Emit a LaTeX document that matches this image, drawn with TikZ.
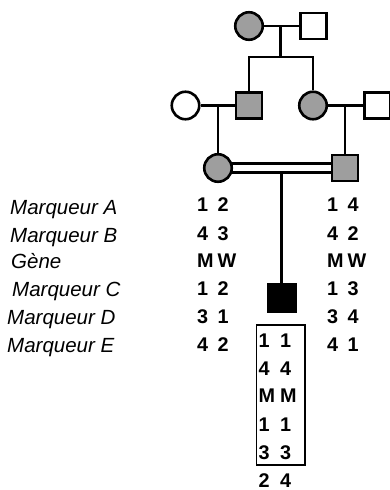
\documentclass[tikz,border=0pt]{standalone}
\usepackage{fontspec}
\setmainfont{Liberation Sans}
\usetikzlibrary{backgrounds}
\definecolor{affgray}{RGB}{158,158,158}
% two alleles of one locus, the first set in a box of fixed width
\newcommand\allelepair[3][20.5pt]{\makebox[#1][l]{#2}#3}
\begin{document}
\begin{tikzpicture}[x=1pt,y=-1pt,
  sym/.style={draw=black, line width=2.6pt, inner sep=0pt},
  female/.style={sym, circle, minimum size=27.5pt},
  male/.style={sym, rectangle, minimum size=26pt},
  aff/.style={fill=affgray},
  unaff/.style={fill=white},
  link/.style={line width=2.6pt},
  lab/.style={anchor=base west, inner sep=0pt,
    font=\fontsize{20.5}{24}\selectfont\itshape},
  allele/.style={anchor=base west, inner sep=0pt,
    font=\fontsize{19.8}{22}\selectfont\bfseries}]
\useasboundingbox (0,0) rectangle (390,490);

% generation I
\node[female, aff]   (gm) at (249,26) {};
\node[male, unaff]   (gf) at (313.5,26) {};
% generation II
\node[female, unaff] (m1) at (185.5,105.5) {};
\node[male, aff]     (f1) at (249,105.5) {};
\node[female, aff]   (m2) at (313,105.5) {};
\node[male, unaff]   (f2) at (377.5,105.5) {};
% generation III
\node[female, aff]   (ca) at (218,168) {};
\node[male, aff]     (cb) at (345,168) {};
% generation IV
\node[male, fill=black, minimum size=27.4pt] (kid) at (281.5,298) {};

% couples and sibships
\draw[link] (gm.east) -- (gf.west);
\coordinate (sib) at (280.7,57);
\draw[link] (sib |- gm.east) -- (sib);
\draw[link] (f1.north) -- (f1.north |- sib) -- (m2.north |- sib) -- (m2.north);
\draw[link] (m1.east) -- (f1.west);
\draw[link] (m1.east -| ca.north) -- (ca.north);
\draw[link] (m2.east) -- (f2.west);
\draw[link] (m2.east -| cb.north) -- (cb.north);

% consanguineous union and its child
\coordinate (dl) at (kid.north |- ca.center);
\begin{scope}[on background layer]
  \draw[link] (dl) -- (kid.north);
  \draw[line width=2.4pt, double=white, double distance=6.6pt]
    (ca.center) -- (cb.center);
\end{scope}

% locus names
\node[lab] (lA) at (10,214)   {Marqueur A};
\node[lab] (lB) at (10,242)   {Marqueur B};
\node[lab] (lG) at (11,268.5) {Gène};
\node[lab] (lC) at (12,296)   {Marqueur C};
\node[lab] (lD) at (7,324)    {Marqueur D};
\node[lab] (lE) at (7,352)    {Marqueur E};

% haplotypes of the mother
\node[allele] (a1) at (197,211.7) {\allelepair{1}{2}};
\node[allele] (a2) at (197,240)   {\allelepair{4}{3}};
\node[allele] (a3) at (197,267)   {\allelepair{M}{W}};
\node[allele] (a4) at (197,295)   {\allelepair{1}{2}};
\node[allele] (a5) at (197,323)   {\allelepair{3}{1}};
\node[allele] (a6) at (197,351)   {\allelepair{4}{2}};

% haplotypes of the father
\node[allele] (b1) at (327,211.7) {\allelepair{1}{4}};
\node[allele] (b2) at (327,240)   {\allelepair{4}{2}};
\node[allele] (b3) at (327,267)   {\allelepair{M}{W}};
\node[allele] (b4) at (327,295)   {\allelepair{1}{3}};
\node[allele] (b5) at (327,323)   {\allelepair{3}{4}};
\node[allele] (b6) at (327,351)   {\allelepair{4}{1}};

% haplotypes of the affected son, homozygous region boxed
\node[draw, line width=1.1pt, inner sep=0pt, minimum width=48.3pt,
  minimum height=140pt] (hbox) at (280.85,395) {};
\node[allele] (c1) at (258.5,347) {\allelepair[21.5pt]{1}{1}};
\node[allele] (c2) at (258.5,375) {\allelepair[21.5pt]{4}{4}};
\node[allele] (c3) at (258.5,402) {\allelepair[21.5pt]{M}{M}};
\node[allele] (c4) at (258.5,431) {\allelepair[21.5pt]{1}{1}};
\node[allele] (c5) at (258.5,459) {\allelepair[21.5pt]{3}{3}};
\node[allele] (c6) at (258.5,487) {\allelepair[21.5pt]{2}{4}};
\end{tikzpicture}
\end{document}
